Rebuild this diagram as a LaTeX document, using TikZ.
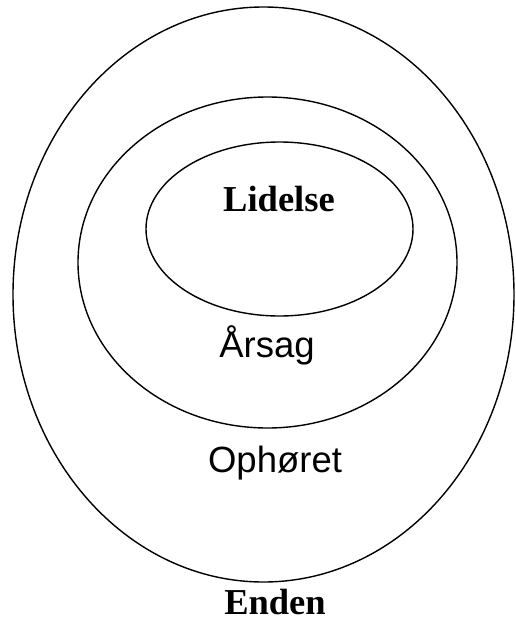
\documentclass[tikz,border=0pt]{standalone}
\usepackage{fontspec}
\setmainfont{Liberation Serif}
\setsansfont{Liberation Sans}
\usetikzlibrary{shapes.geometric}

\begin{document}
\begin{tikzpicture}[
  x=0.5pt, y=-0.5pt,
  ring/.style={draw,ellipse,line width=0.7pt,inner sep=0pt,outer sep=0pt},
  bold/.style={anchor=base,inner sep=0pt,font=\fontsize{18.25}{20}\selectfont\bfseries},
  plain/.style={anchor=base,inner sep=0pt,font=\fontsize{18.25}{20}\selectfont\sffamily}
    ]
    \useasboundingbox (0,0) rectangle (515,621);
    \node[ring,minimum width=250.5pt,minimum height=287.5pt] (outer) at (263.5,294.5) {};
    \node[ring,minimum width=189.5pt,minimum height=165.5pt] (mid) at (267.5,262.5) {};
    \node[ring,minimum width=133.5pt,minimum height=87pt] (inner) at (279.5,229) {};
    \node[bold] (lid) at (279,211) {Lidelse};
    \node[plain] (aar) at (267,357) {Årsag};
    \node[plain] (oph) at (275,472) {Ophøret};
    \node[bold] (end) at (275,614) {Enden};
    \end{tikzpicture}
\end{document}
